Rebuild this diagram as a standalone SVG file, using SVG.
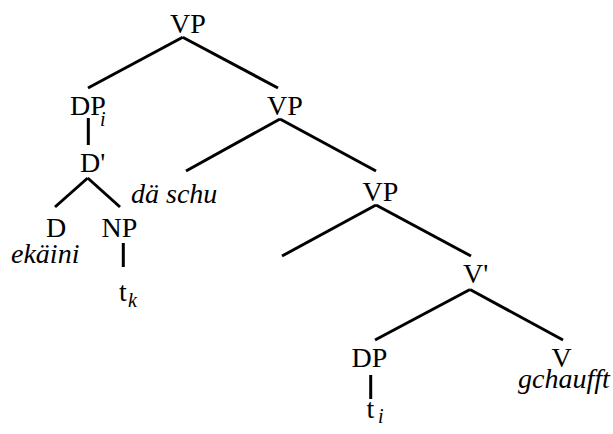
<svg xmlns="http://www.w3.org/2000/svg" width="613" height="434" viewBox="0 0 613 434">
<defs>
<style>
.e line{stroke:#000;stroke-width:3}
</style>
</defs>
<rect width="613" height="434" fill="#fff"/>
<g id="edges" class="e" stroke="#000" stroke-width="3">
<line x1="182.7" y1="37.3" x2="88" y2="88"/>
<line x1="182.7" y1="37.3" x2="278" y2="88"/>
<line x1="88.3" y1="118" x2="88.3" y2="145"/>
<line x1="87.7" y1="178" x2="55" y2="207"/>
<line x1="87.7" y1="178" x2="120" y2="207"/>
<line x1="280" y1="119" x2="186" y2="171"/>
<line x1="280" y1="119" x2="376" y2="171"/>
<line x1="123.3" y1="243" x2="123.3" y2="267"/>
<line x1="376" y1="205" x2="282" y2="256"/>
<line x1="376" y1="205" x2="471" y2="256"/>
<line x1="470" y1="289.5" x2="375" y2="340"/>
<line x1="470" y1="289.5" x2="563" y2="340"/>
<line x1="370.7" y1="375" x2="370.7" y2="399"/>
</g>
<g id="vp1"><text x="170" y="33" font-family="Liberation Serif" font-size="28">VP</text></g>
<g id="dpi"><text x="70" y="115" font-family="Liberation Serif" font-size="28">DP</text><text x="100" y="126" font-family="Liberation Serif" font-size="20" font-style="italic">i</text></g>
<g id="dbar"><text x="80" y="171.7" font-family="Liberation Serif" font-size="28">D'</text></g>
<g id="vp2"><text x="267" y="115" font-family="Liberation Serif" font-size="28">VP</text></g>
<g id="daschu"><text x="131" y="203" font-family="Liberation Serif" font-size="28" font-style="italic">dä schu</text></g>
<g id="d"><text x="46" y="236.7" font-family="Liberation Serif" font-size="28">D</text></g>
<g id="ekaini"><text x="11" y="263" font-family="Liberation Serif" font-size="28" font-style="italic">ekäini</text></g>
<g id="np"><text x="101.5" y="236.7" font-family="Liberation Serif" font-size="28">NP</text></g>
<g id="tk"><text x="119" y="301" font-family="Liberation Serif" font-size="28">t</text><text x="128" y="307" font-family="Liberation Serif" font-size="20" font-style="italic">k</text></g>
<g id="vp3"><text x="362.5" y="201" font-family="Liberation Serif" font-size="28">VP</text></g>
<g id="vbar"><text x="463" y="283" font-family="Liberation Serif" font-size="28">V'</text></g>
<g id="dp"><text x="351.5" y="367" font-family="Liberation Serif" font-size="28">DP</text></g>
<g id="ti"><text x="366.5" y="418" font-family="Liberation Serif" font-size="28">t</text><text x="378" y="423" font-family="Liberation Serif" font-size="20" font-style="italic">i</text></g>
<g id="v"><text x="551.5" y="367" font-family="Liberation Serif" font-size="28">V</text></g>
<g id="gchaufft"><text x="518" y="388" font-family="Liberation Serif" font-size="28" font-style="italic">gchaufft</text></g>
</svg>
